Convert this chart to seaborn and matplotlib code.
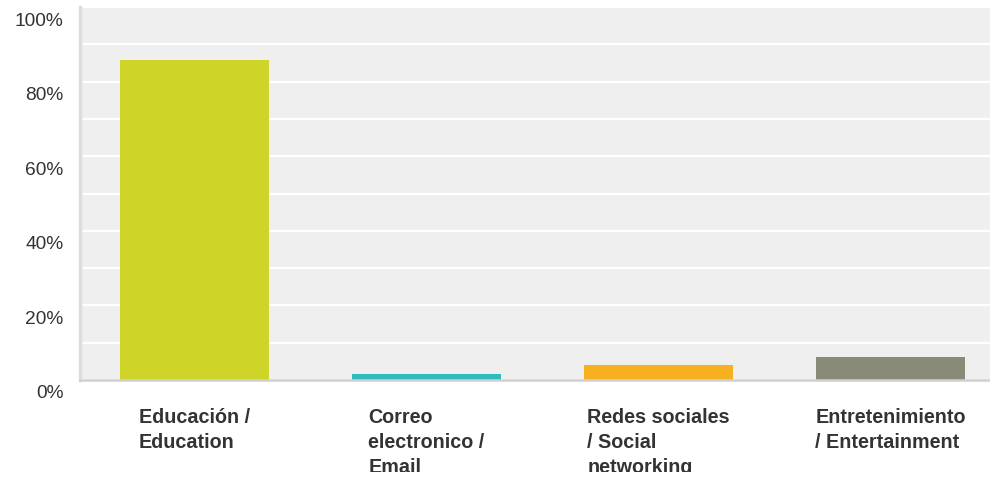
import matplotlib
matplotlib.use("Agg")
from matplotlib import pyplot as plt
from matplotlib.transforms import ScaledTranslation, Bbox
import seaborn as sns
import pandas as pd

categories = [
    "Educación /\nEducation",
    "Correo\nelectronico /\nEmail",
    "Redes sociales\n/ Social\nnetworking",
    "Entretenimiento\n/ Entertainment",
]
percent = [85.7, 1.6, 4.0, 6.2]
bar_colors = ["#CED428", "#2DBBBB", "#F7B020", "#8A8A78"]
y_ticks = list(range(0, 101, 10))
y_labels = [f"{t}%" if t % 20 == 0 else "" for t in y_ticks]

df = pd.DataFrame({"category": categories, "percent": percent})

sns.set_style("white")
plt.rcParams["font.family"] = ["Liberation Sans", "DejaVu Sans"]

fig = plt.figure(figsize=(9.9, 4.78), dpi=100)
ax = fig.add_axes([80 / 990, 98 / 478, 910 / 990, 373 / 478])
ax.set_facecolor("#EFEFEF")

sns.barplot(
    data=df, x="category", y="percent",
    hue="category", palette=bar_colors, legend=False,
    width=0.642, saturation=1, linewidth=0, ax=ax, zorder=3,
)

ax.set_xlim(-0.4935, 3.429)
ax.set_ylim(0, 100)
ax.set_yticks(y_ticks)
ax.set_yticklabels(y_labels)
ax.yaxis.grid(True, color="white", linewidth=1.6, zorder=1)
ax.set_axisbelow(True)
ax.set_xlabel("")
ax.set_ylabel("")

for side in ["top", "right"]:
    ax.spines[side].set_visible(False)
ax.spines["left"].set_color("#DDDDDD")
ax.spines["left"].set_linewidth(2.5)
ax.spines["bottom"].set_color("#D0D0D0")
ax.spines["bottom"].set_linewidth(1.8)
ax.spines["bottom"].set_zorder(4)

ax.tick_params(axis="y", length=0, pad=12, labelsize=13.8, labelcolor="#333333")
ax.tick_params(axis="x", length=0, pad=20.5, labelsize=14.2, labelcolor="#333333")

# y labels sit a little below their gridline
for lbl in ax.get_yticklabels():
    lbl.set_transform(lbl.get_transform() + ScaledTranslation(0, -0.12, fig.dpi_scale_trans))

# x labels: block centred under the bar, lines left aligned, cut at the bottom like the original
clip = Bbox.from_extents(0, 6, 990, 478)
for lbl in ax.get_xticklabels():
    lbl.set_horizontalalignment("center")
    lbl.set_multialignment("left")
    lbl.set_fontweight("bold")
    lbl.set_linespacing(1.4)
    lbl.set_clip_box(clip)
    lbl.set_clip_on(True)

fig.savefig("out.png", dpi=100)
